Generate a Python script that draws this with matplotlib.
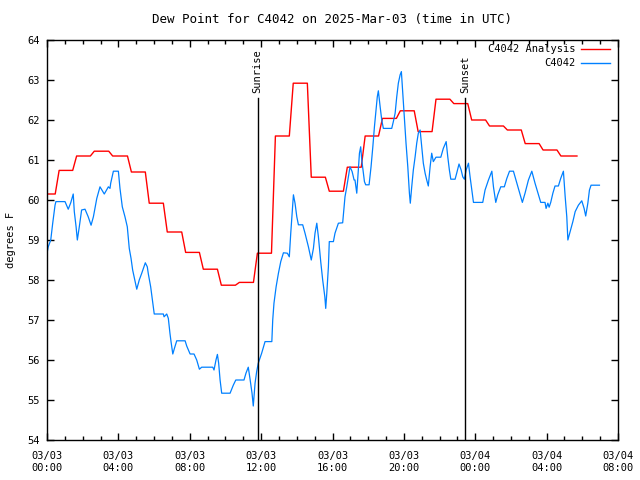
import matplotlib
matplotlib.use('Agg')
import matplotlib.pyplot as plt
from matplotlib.lines import Line2D
from matplotlib.ticker import MultipleLocator

plt.rcParams.update({
    'font.family': 'DejaVu Sans Mono',
    'font.size': 7.5,
})

RED = '#ff0000'
BLUE = '#0080ff'

# hours since 2025-03-03 00:00 UTC
obs_hours = [0.0, 0.07, 0.21, 0.32, 0.45, 0.50, 1.01, 1.19, 1.33, 1.47, 1.53, 1.63, 1.70,
             1.81, 1.94, 2.13, 2.31, 2.47, 2.60, 2.79, 2.97, 3.21, 3.44, 3.53, 3.57, 3.72,
             4.00, 4.09, 4.22, 4.37, 4.50, 4.61, 4.71, 4.80, 5.03, 5.17, 5.31, 5.51, 5.62,
             5.68, 5.81, 5.92, 6.01, 6.52, 6.56, 6.71, 6.80, 6.89, 6.95, 7.05, 7.14, 7.27,
             7.74, 7.83, 8.02, 8.24, 8.39, 8.54, 8.67, 9.29, 9.36, 9.47, 9.55, 9.62, 9.70,
             9.79, 10.26, 10.44, 10.58, 11.04, 11.15, 11.28, 11.38, 11.49, 11.56, 11.66,
             11.75, 11.84, 12.03, 12.22, 12.60, 12.65, 12.72, 12.84, 12.97, 13.10, 13.25,
             13.47, 13.58, 13.66, 13.75, 13.81, 13.90, 14.00, 14.09, 14.33, 14.46, 14.65,
             14.81, 14.93, 15.02, 15.12, 15.21, 15.34, 15.45, 15.57, 15.62, 15.68, 15.77,
             15.82, 16.05, 16.14, 16.33, 16.57, 16.70, 16.80, 16.89, 16.98, 17.10, 17.21,
             17.26, 17.36, 17.45, 17.51, 17.58, 17.64, 17.71, 17.79, 17.86, 18.05, 18.16,
             18.26, 18.35, 18.44, 18.51, 18.57, 18.67, 18.76, 18.85, 19.32, 19.41, 19.51,
             19.60, 19.69, 19.79, 19.86, 19.94, 20.03, 20.12, 20.22, 20.31, 20.36, 20.44,
             20.53, 20.63, 20.72, 20.81, 20.91, 21.00, 21.09, 21.19, 21.28, 21.37, 21.47,
             21.56, 21.65, 21.80, 22.07, 22.21, 22.37, 22.46, 22.55, 22.63, 22.87, 22.96,
             23.09, 23.21, 23.30, 23.39, 23.49, 23.62, 23.71, 23.81, 23.90, 24.42, 24.55,
             24.74, 24.93, 25.02, 25.15, 25.26, 25.43, 25.63, 25.77, 25.92, 26.14, 26.33,
             26.51, 26.64, 26.79, 26.98, 27.17, 27.35, 27.54, 27.67, 27.91, 27.97, 28.07,
             28.14, 28.23, 28.35, 28.47, 28.66, 28.79, 28.94, 29.04, 29.13, 29.19, 29.32,
             29.47, 29.60, 29.78, 29.97, 30.10, 30.19, 30.31, 30.40, 30.49, 30.96]
obs_dewpt = [58.67, 58.83, 59.00, 59.42, 59.87, 59.96, 59.96, 59.77, 59.93, 60.15, 59.71,
             59.33, 59.00, 59.33, 59.75, 59.77, 59.58, 59.37, 59.58, 60.04, 60.33, 60.15,
             60.33, 60.29, 60.42, 60.72, 60.72, 60.29, 59.83, 59.58, 59.33, 58.79, 58.54,
             58.25, 57.77, 58.00, 58.17, 58.43, 58.33, 58.15, 57.83, 57.46, 57.15, 57.15,
             57.08, 57.15, 57.04, 56.67, 56.46, 56.15, 56.29, 56.48, 56.48, 56.35, 56.15,
             56.15, 56.00, 55.77, 55.82, 55.82, 55.75, 56.00, 56.14, 55.92, 55.50, 55.17,
             55.17, 55.37, 55.50, 55.50, 55.67, 55.82, 55.52, 55.17, 54.85, 55.42, 55.71,
             55.92, 56.17, 56.46, 56.46, 57.00, 57.42, 57.83, 58.17, 58.46, 58.68, 58.67,
             58.58, 59.17, 59.75, 60.13, 59.92, 59.58, 59.38, 59.38, 59.17, 58.83, 58.50,
             58.79, 59.17, 59.42, 59.08, 58.46, 58.00, 57.58, 57.29, 57.67, 58.33, 58.96,
             58.96, 59.17, 59.42, 59.43, 60.08, 60.33, 60.58, 60.83, 60.71, 60.50, 60.50,
             60.17, 60.75, 61.17, 61.33, 61.00, 60.75, 60.46, 60.38, 60.38, 60.83, 61.33,
             61.83, 62.25, 62.58, 62.73, 62.33, 62.00, 61.79, 61.79, 61.96, 62.17, 62.58,
             62.92, 63.13, 63.21, 62.67, 62.08, 61.42, 60.83, 60.17, 59.92, 60.33, 60.75,
             61.08, 61.42, 61.67, 61.75, 61.33, 60.92, 60.67, 60.50, 60.35, 60.83, 61.17,
             60.96, 61.07, 61.07, 61.29, 61.46, 61.08, 60.75, 60.52, 60.52, 60.67, 60.90,
             60.75, 60.58, 60.52, 60.75, 60.92, 60.58, 60.25, 59.94, 59.94, 60.25, 60.50,
             60.72, 60.33, 59.94, 60.13, 60.33, 60.33, 60.54, 60.72, 60.72, 60.42, 60.13,
             59.94, 60.17, 60.50, 60.72, 60.42, 60.13, 59.94, 59.94, 59.79, 59.92, 59.82,
             59.94, 60.17, 60.35, 60.35, 60.54, 60.72, 60.08, 59.58, 59.00, 59.21, 59.46,
             59.71, 59.87, 59.98, 59.79, 59.60, 59.92, 60.25, 60.37, 60.37]

# analysis: value and the hour at which it takes effect
anl_start = [0.0, 0.68, 1.66, 2.65, 3.68, 4.73, 5.73, 6.74, 7.77, 8.76, 9.77, 10.78,
             11.79, 12.80, 13.80, 14.81, 15.82, 16.83, 17.83, 18.80, 19.80, 20.80, 21.80,
             22.80, 23.80, 24.80, 25.80, 26.80, 27.80, 28.80]
anl_dewpt = [60.15, 60.74, 61.10, 61.22, 61.10, 60.70, 59.92, 59.20, 58.69, 58.27, 57.87,
             57.94, 58.67, 61.60, 62.92, 60.57, 60.22, 60.82, 61.60, 62.04, 62.23, 61.71,
             62.52, 62.41, 62.00, 61.85, 61.75, 61.41, 61.25, 61.10]
anl_end = 29.70

sunrise_hour = 11.80
sunset_hour = 23.44
sun_line_top = 62.55

tick_hours = [0, 4, 8, 12, 16, 20, 24, 28, 32]
tick_labels = ['03/03\n00:00', '03/03\n04:00', '03/03\n08:00', '03/03\n12:00',
               '03/03\n16:00', '03/03\n20:00', '03/04\n00:00', '03/04\n04:00',
               '03/04\n08:00']

# build the held-value path for the analysis
ends = [s - 0.22 for s in anl_start[1:]] + [anl_end]
anl_x, anl_y = [], []
for s, e, v in zip(anl_start, ends, anl_dewpt):
    anl_x += [s, e]
    anl_y += [v, v]

fig = plt.figure(figsize=(6.4, 4.8), dpi=100)
ax = fig.add_axes([47 / 640, 1 - 440 / 480, 571 / 640, 400 / 480])

ax.plot(anl_x, anl_y, color=RED, lw=1.0)
ax.plot(obs_hours, obs_dewpt, color=BLUE, lw=0.9)

for h, name in [(sunrise_hour, 'Sunrise'), (sunset_hour, 'Sunset')]:
    ax.plot([h, h], [54, sun_line_top], color='black', lw=1.0)
    ax.text(h, sun_line_top + 0.12, name, rotation=90, ha='center', va='bottom')

ax.set_xlim(0, 32)
ax.set_ylim(54, 64)
ax.set_xticks(tick_hours)
ax.set_xticklabels(tick_labels)
ax.xaxis.set_minor_locator(MultipleLocator(1))
ax.yaxis.set_major_locator(MultipleLocator(1))
ax.tick_params(which='major', direction='in', length=5, width=1, top=True, right=True)
ax.tick_params(which='minor', direction='in', length=3, width=1, top=True)
ax.tick_params(axis='x', pad=8)
ax.tick_params(axis='y', pad=5)
for sp in ax.spines.values():
    sp.set_linewidth(1.0)

ax.set_ylabel('degrees F', labelpad=8)
ax.set_title('Dew Point for C4042 on 2025-Mar-03 (time in UTC)', pad=12)

# gnuplot-style key: right-aligned text with sample line
for row, (label, col) in enumerate([('C4042 Analysis', RED), ('C4042', BLUE)]):
    yy = 0.978 - row * 0.036
    ax.text(0.925, yy, label, transform=ax.transAxes, ha='right', va='center')
    ax.add_line(Line2D([0.935, 0.986], [yy, yy], transform=ax.transAxes,
                       color=col, lw=1.0))

fig.savefig('out.png', dpi=100)
